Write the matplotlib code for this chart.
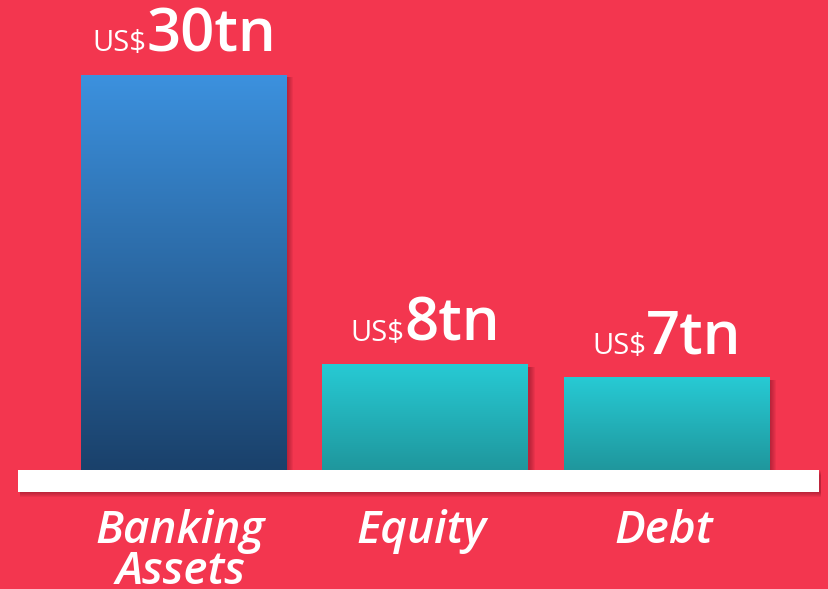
import numpy as np
import matplotlib.pyplot as plt
from matplotlib.patches import Rectangle
from matplotlib import transforms

categories = ["Banking\nAssets", "Equity", "Debt"]
values = [30, 8, 7]
unit_prefix = "US$"
value_labels = ["30tn", "8tn", "7tn"]

bg = "#F3364F"
grad_top = ["#3C91DE", "#27CAD4", "#27CAD4"]
grad_bot = ["#1A416B", "#1F979D", "#1F979D"]

plt.rcParams['font.family'] = ['Open Sans', 'DejaVu Sans']

fig = plt.figure(figsize=(8.29, 5.89), dpi=100, facecolor=bg)
ax = fig.add_axes([0, 0, 1, 1])
ax.set_facecolor(bg)
ax.axis('off')

width = 0.853
x = np.arange(len(categories))
bars = ax.bar(x, values, width=width, color='none', zorder=3)


def hex_rgb(h):
    return np.array([int(h[i:i + 2], 16) / 255 for i in (1, 3, 5)])


for i, b in enumerate(bars):
    x0, y0 = b.get_x(), b.get_y()
    w, h = b.get_width(), b.get_height()
    # soft shadow on the right
    for k in range(6):
        off = 0.006 + k * 0.004
        ax.add_patch(Rectangle((x0 + off, y0), w, h - 0.15, color='#5a0a1a',
                               alpha=0.07, lw=0, zorder=2))
    t = np.linspace(0, 1, 256)[:, None]
    c = hex_rgb(grad_top[i]) * (1 - t) + hex_rgb(grad_bot[i]) * t
    img = np.repeat(c[:, None, :], 2, axis=1)
    ax.imshow(img, extent=(x0, x0 + w, y0, y0 + h), aspect='auto',
              zorder=3, interpolation='bilinear')

ax.set_xlim(-0.762, 2.671)
ax.set_ylim(-9.04, 35.7)

# white base strip with shadow
base_tr = transforms.blended_transform_factory(ax.transAxes, ax.transData)
for k in range(5):
    ax.add_patch(Rectangle((18 / 829 + 0.002, -1.67 - 0.08 - k * 0.08),
                           801 / 829, 1.67, transform=base_tr,
                           color='#5a0a1a', alpha=0.08, lw=0, zorder=4))
ax.add_patch(Rectangle((18 / 829, -1.67), 801 / 829, 1.67, transform=base_tr,
                       color='white', lw=0, zorder=5))

# value labels: small "US$" followed by large number
fig.canvas.draw()
renderer = fig.canvas.get_renderer()
for i, v in enumerate(values):
    small = ax.text(x[i], v, unit_prefix, fontsize=21, color='white',
                    ha='left', va='baseline', zorder=6)
    big = ax.text(x[i], v, value_labels[i], fontsize=43, fontweight='semibold',
                  color='white', ha='left', va='baseline', zorder=6)
    ws = small.get_window_extent(renderer).width
    wb = big.get_window_extent(renderer).width
    total = ws + wb
    small.set_transform(ax.transData + transforms.ScaledTranslation(
        (-total / 2) / 100, 24 / 100, fig.dpi_scale_trans))
    big.set_transform(ax.transData + transforms.ScaledTranslation(
        (-total / 2 + ws) / 100, 24 / 100, fig.dpi_scale_trans))

# category labels
for i, c in enumerate(categories):
    ax.text(x[i] - 0.015, -2.95, c, fontsize=33, fontweight='semibold',
            style='italic', color='white', ha='center', va='top',
            linespacing=0.88, zorder=6)

fig.savefig("out.png", dpi=100, facecolor=bg)
